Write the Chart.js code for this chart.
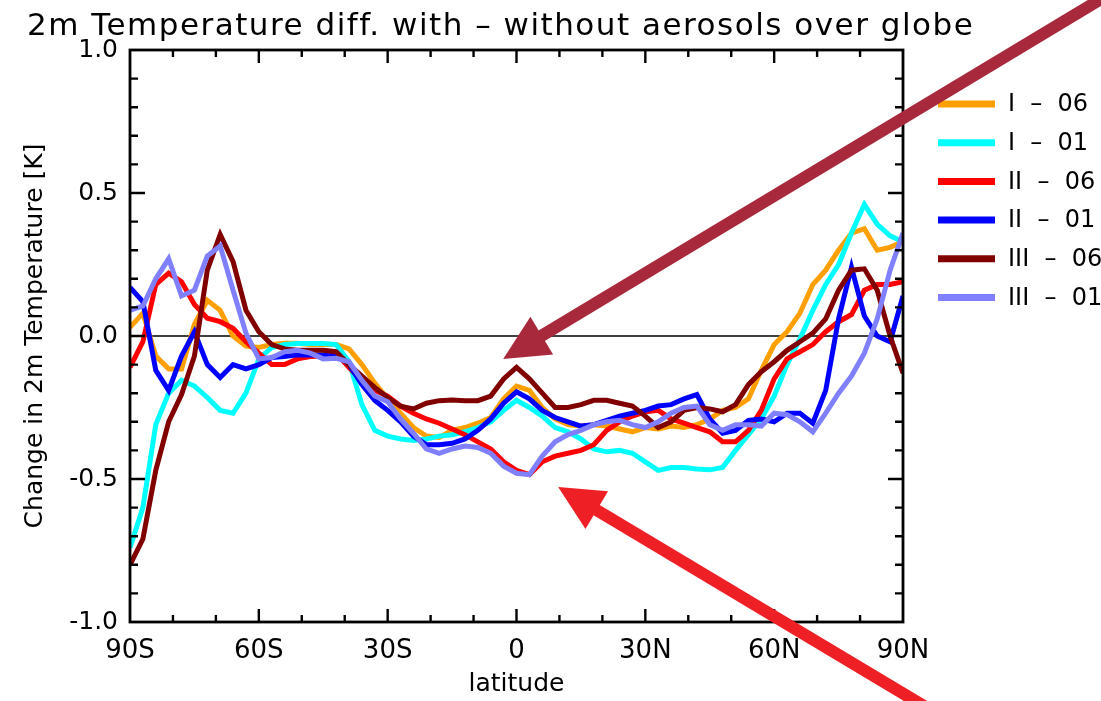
<!DOCTYPE html>
<html>
<head>
<meta charset="utf-8">
<script src="https://cdn.jsdelivr.net/npm/chart.js@4.4.1/dist/chart.umd.min.js"></script>
<style>
  html, body { margin: 0; padding: 0; background: #fff; }
</style>
</head>
<body>
<canvas id="tempChart" width="1101" height="701"></canvas>
<script>
// latitude grid (deg, negative = south)
const latitudes = [-90, -87, -84, -81, -78, -75, -72, -69, -66, -63,
  -60, -57, -54, -51, -48, -45, -42, -39, -36, -33,
  -30, -27, -24, -21, -18, -15, -12, -9, -6, -3,
  0, 3, 6, 9, 12, 15, 18, 21, 24, 27,
  30, 33, 36, 39, 42, 45, 48, 51, 54, 57,
  60, 63, 66, 69, 72, 75, 78, 81, 84, 87, 90];

// change in 2m temperature [K]
const seriesI06 = [0.03, 0.08, -0.07, -0.115, -0.115, 0.04, 0.125, 0.09, 0.0, -0.035,
  -0.04, -0.03, -0.025, -0.025, -0.03, -0.03, -0.03, -0.045, -0.10, -0.165,
  -0.22, -0.27, -0.32, -0.35, -0.355, -0.33, -0.32, -0.305, -0.285, -0.22,
  -0.175, -0.19, -0.25, -0.29, -0.31, -0.315, -0.31, -0.315, -0.325, -0.335,
  -0.32, -0.325, -0.315, -0.32, -0.31, -0.29, -0.26, -0.25, -0.22, -0.12,
  -0.03, 0.015, 0.08, 0.18, 0.23, 0.30, 0.36, 0.375, 0.30, 0.31, 0.33];
const seriesI01 = [-0.74, -0.60, -0.31, -0.20, -0.155, -0.175, -0.215, -0.26, -0.27, -0.20,
  -0.08, -0.04, -0.03, -0.026, -0.026, -0.026, -0.03, -0.09, -0.24, -0.33,
  -0.35, -0.36, -0.365, -0.36, -0.35, -0.345, -0.335, -0.32, -0.30, -0.26,
  -0.225, -0.25, -0.28, -0.32, -0.335, -0.36, -0.395, -0.405, -0.40, -0.41,
  -0.44, -0.47, -0.46, -0.46, -0.465, -0.468, -0.46, -0.40, -0.345, -0.29,
  -0.21, -0.10, -0.01, 0.09, 0.18, 0.25, 0.36, 0.46, 0.39, 0.35, 0.33];
const seriesII06 = [-0.11, -0.02, 0.18, 0.22, 0.19, 0.11, 0.062, 0.05, 0.027, -0.02,
  -0.06, -0.10, -0.10, -0.08, -0.072, -0.07, -0.06, -0.11, -0.155, -0.19,
  -0.21, -0.245, -0.27, -0.29, -0.305, -0.325, -0.345, -0.37, -0.395, -0.44,
  -0.47, -0.485, -0.44, -0.42, -0.41, -0.40, -0.38, -0.33, -0.30, -0.28,
  -0.265, -0.26, -0.29, -0.305, -0.32, -0.335, -0.37, -0.37, -0.33, -0.26,
  -0.15, -0.08, -0.055, -0.03, 0.015, 0.05, 0.075, 0.16, 0.18, 0.18, 0.19];
const seriesII01 = [0.17, 0.12, -0.12, -0.19, -0.07, 0.015, -0.10, -0.145, -0.10, -0.115,
  -0.10, -0.075, -0.072, -0.066, -0.066, -0.066, -0.06, -0.10, -0.17, -0.225,
  -0.26, -0.30, -0.35, -0.38, -0.38, -0.375, -0.36, -0.33, -0.29, -0.235,
  -0.195, -0.22, -0.26, -0.285, -0.30, -0.315, -0.31, -0.295, -0.28, -0.27,
  -0.26, -0.245, -0.24, -0.22, -0.205, -0.29, -0.34, -0.33, -0.295, -0.29,
  -0.30, -0.27, -0.27, -0.305, -0.19, 0.06, 0.24, 0.07, 0.0, -0.02, 0.14];
const seriesIII06 = [-0.80, -0.71, -0.47, -0.30, -0.205, -0.07, 0.23, 0.355, 0.26, 0.09,
  0.015, -0.03, -0.045, -0.05, -0.05, -0.05, -0.055, -0.10, -0.14, -0.18,
  -0.215, -0.245, -0.255, -0.235, -0.226, -0.224, -0.226, -0.226, -0.21, -0.15,
  -0.11, -0.15, -0.20, -0.25, -0.25, -0.24, -0.225, -0.225, -0.235, -0.245,
  -0.28, -0.32, -0.30, -0.26, -0.25, -0.255, -0.265, -0.24, -0.17, -0.125,
  -0.09, -0.05, -0.02, 0.01, 0.06, 0.16, 0.23, 0.235, 0.16, 0.0, -0.13];
const seriesIII01 = [0.09, 0.105, 0.20, 0.27, 0.14, 0.16, 0.28, 0.315, 0.16, 0.01,
  -0.08, -0.075, -0.055, -0.05, -0.06, -0.08, -0.078, -0.09, -0.155, -0.21,
  -0.23, -0.29, -0.34, -0.395, -0.41, -0.395, -0.385, -0.39, -0.41, -0.455,
  -0.48, -0.485, -0.42, -0.37, -0.345, -0.33, -0.31, -0.30, -0.295, -0.31,
  -0.32, -0.30, -0.27, -0.25, -0.245, -0.31, -0.33, -0.31, -0.31, -0.315,
  -0.27, -0.275, -0.30, -0.335, -0.27, -0.20, -0.14, -0.06, 0.06, 0.23, 0.36];

const seriesLabels = ["I  \u2013  06", "I  \u2013  01", "II  \u2013  06", "II  \u2013  01", "III  \u2013  06", "III  \u2013  01"];

// axis ticks
const xTickValues = [-90, -60, -30, 0, 30, 60, 90];
const xTickLabels = ["90S", "60S", "30S", "0", "30N", "60N", "90N"];
const yTickValues = [-1.0, -0.5, 0.0, 0.5, 1.0];
const yTickLabels = ["-1.0", "-0.5", "0.0", "0.5", "1.0"];

// the two annotation arrows, given in data units (lat, K): tail -> tip
const arrowNotes = [
  { from: [159, 1.385], to: [-3.1, -0.08], color: "#a8283c" },
  { from: [100.7, -1.346], to: [9.7, -0.528], color: "#ee2026" },
];

const FONT = "'DejaVu Sans', sans-serif";

function toPoints(values) {
  return values.map((v, i) => ({ x: latitudes[i], y: v }));
}

const colors = ["#ffa000", "#00ffff", "#ff0000", "#0000ff", "#800000", "#8080ff"];
const allSeries = [seriesI06, seriesI01, seriesII06, seriesII01, seriesIII06, seriesIII01];

const datasets = allSeries.map((s, i) => ({
  label: seriesLabels[i],
  data: toPoints(s),
  borderColor: colors[i],
  backgroundColor: colors[i],
  borderWidth: 5,
  pointRadius: 0,
  tension: 0,
  fill: false,
  order: allSeries.length - i, // later series on top
}));

function drawArrow(ctx, x0, y0, x1, y1, color) {
  const ang = Math.atan2(y1 - y0, x1 - x0);
  const headLen = 45, headHalf = 22;
  const bx = x1 - headLen * Math.cos(ang);
  const by = y1 - headLen * Math.sin(ang);
  ctx.save();
  ctx.strokeStyle = color;
  ctx.fillStyle = color;
  ctx.lineWidth = 12;
  ctx.beginPath();
  ctx.moveTo(x0, y0);
  ctx.lineTo(bx + 4 * Math.cos(ang), by + 4 * Math.sin(ang));
  ctx.stroke();
  ctx.beginPath();
  ctx.moveTo(x1, y1);
  ctx.lineTo(bx + headHalf * Math.sin(ang), by - headHalf * Math.cos(ang));
  ctx.lineTo(bx - headHalf * Math.sin(ang), by + headHalf * Math.cos(ang));
  ctx.closePath();
  ctx.fill();
  ctx.restore();
}

const idlFrame = {
  id: "idlFrame",
  beforeDatasetsDraw(chart) {
    const { ctx, chartArea: a, scales: { y } } = chart;
    const y0 = y.getPixelForValue(0);
    ctx.save();
    ctx.strokeStyle = "#000";
    ctx.lineWidth = 1.6;
    ctx.beginPath();
    ctx.moveTo(a.left, y0);
    ctx.lineTo(a.right, y0);
    ctx.stroke();
    ctx.restore();
  },
  afterDraw(chart) {
    const { ctx, chartArea: a, scales: { x, y } } = chart;
    ctx.save();
    // frame
    ctx.strokeStyle = "#000";
    ctx.lineWidth = 2.8;
    ctx.strokeRect(a.left, a.top, a.right - a.left, a.bottom - a.top);
    // inward ticks
    ctx.lineWidth = 2.4;
    ctx.beginPath();
    for (let lat = -80; lat <= 80; lat += 10) {
      const px = x.getPixelForValue(lat);
      const len = lat % 30 === 0 ? 13 : 7;
      ctx.moveTo(px, a.bottom); ctx.lineTo(px, a.bottom - len);
      ctx.moveTo(px, a.top); ctx.lineTo(px, a.top + len);
    }
    for (let k = -9; k <= 9; k++) {
      const py = y.getPixelForValue(k / 10);
      const len = k % 5 === 0 ? 15 : 8;
      ctx.moveTo(a.left, py); ctx.lineTo(a.left + len, py);
      ctx.moveTo(a.right, py); ctx.lineTo(a.right - len, py);
    }
    ctx.stroke();

    // title
    ctx.fillStyle = "#000";
    ctx.font = "31px " + FONT;
    ctx.letterSpacing = "1.5px";
    ctx.textAlign = "left";
    ctx.textBaseline = "middle";
    ctx.fillText("2m Temperature diff. with \u2013 without aerosols over globe", 27, 27);
    ctx.letterSpacing = "0px";

    // legend
    ctx.font = "24px " + FONT;
    chart.data.datasets.forEach((ds, i) => {
      const ly = 104 + i * 38.7;
      ctx.strokeStyle = ds.borderColor;
      ctx.lineWidth = 7;
      ctx.beginPath();
      ctx.moveTo(938, ly);
      ctx.lineTo(995, ly);
      ctx.stroke();
      ctx.fillStyle = "#000";
      ctx.fillText(ds.label, 1008, ly + 1);
    });

    // arrows
    arrowNotes.forEach((n) => {
      drawArrow(ctx,
        x.getPixelForValue(n.from[0]), y.getPixelForValue(n.from[1]),
        x.getPixelForValue(n.to[0]), y.getPixelForValue(n.to[1]), n.color);
    });
    ctx.restore();
  },
};

const ctx = document.getElementById("tempChart").getContext("2d");
const chart = new Chart(ctx, {
  type: "line",
  data: { datasets },
  options: {
    responsive: false,
    animation: false,
    devicePixelRatio: 1,
    layout: { padding: { left: 0, right: 198, top: 50, bottom: 0 } },
    plugins: { legend: { display: false }, tooltip: { enabled: false } },
    scales: {
      x: {
        type: "linear",
        min: -90,
        max: 90,
        afterBuildTicks: (scale) => { scale.ticks = xTickValues.map((v) => ({ value: v })); },
        afterFit: (scale) => { scale.height = 79; },
        grid: { display: false, drawTicks: false },
        border: { display: false },
        ticks: {
          color: "#000",
          font: { family: FONT, size: 26 },
          padding: 14,
          maxRotation: 0,
          autoSkip: false,
          callback: (v) => xTickLabels[xTickValues.indexOf(v)],
        },
        title: {
          display: true,
          text: "latitude",
          color: "#000",
          font: { family: FONT, size: 25 },
          padding: { top: 0, bottom: 2 },
        },
      },
      y: {
        min: -1,
        max: 1,
        afterBuildTicks: (scale) => { scale.ticks = yTickValues.map((v) => ({ value: v })); },
        afterFit: (scale) => { scale.width = 130; },
        grid: { display: false, drawTicks: false },
        border: { display: false },
        ticks: {
          color: "#000",
          font: { family: FONT, size: 25 },
          padding: 12,
          autoSkip: false,
          callback: (v) => yTickLabels[yTickValues.indexOf(v)],
        },
        title: {
          display: true,
          text: "Change in 2m Temperature [K]",
          color: "#000",
          font: { family: FONT, size: 25 },
          padding: { top: 20, bottom: 0 },
        },
      },
    },
  },
  plugins: [idlFrame],
});
</script>
</body>
</html>
